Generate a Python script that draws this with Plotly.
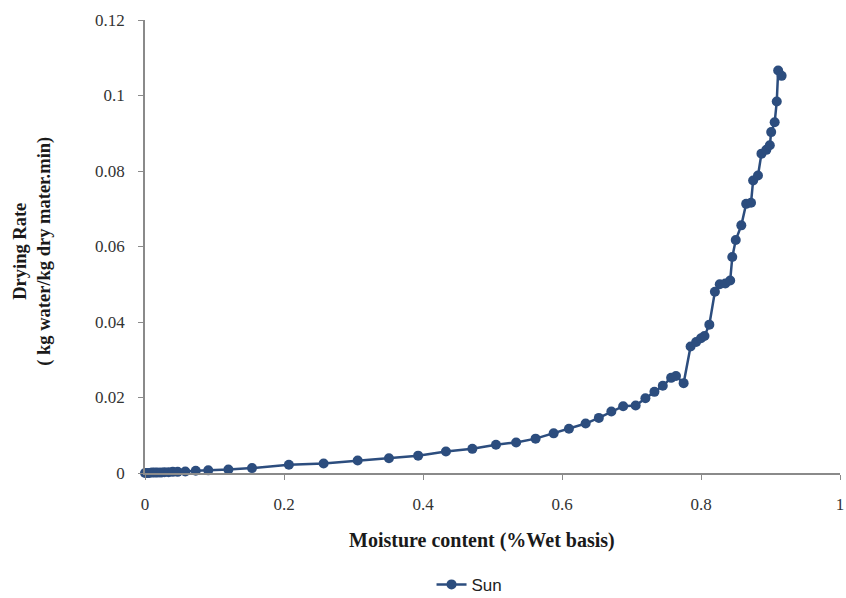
import plotly.graph_objects as go

moisture = [0.000, 0.003, 0.006, 0.010, 0.014, 0.018, 0.023, 0.028, 0.034, 0.040, 0.047,
            0.058, 0.073, 0.091, 0.120, 0.154, 0.207, 0.257, 0.306, 0.351, 0.393,
            0.433, 0.471, 0.505, 0.534, 0.562, 0.588, 0.610, 0.634, 0.653, 0.671,
            0.688, 0.706, 0.720, 0.733, 0.745, 0.757, 0.764, 0.775, 0.785, 0.793,
            0.800, 0.805, 0.812, 0.820, 0.827, 0.835, 0.842, 0.845, 0.850, 0.858,
            0.865, 0.872, 0.875, 0.882, 0.887, 0.894, 0.899, 0.901, 0.906, 0.909,
            0.911, 0.916]
rate = [0.0000, 0.0000, 0.0000, 0.0001, 0.0001, 0.0001, 0.0001, 0.0002, 0.0002, 0.0003, 0.0003,
        0.0004, 0.0006, 0.0007, 0.0009, 0.0013, 0.0022, 0.0025, 0.0033, 0.0039, 0.0046,
        0.0057, 0.0064, 0.0075, 0.0081, 0.0091, 0.0105, 0.0117, 0.0131, 0.0146, 0.0163,
        0.0177, 0.0179, 0.0198, 0.0215, 0.0231, 0.0252, 0.0257, 0.0238, 0.0335, 0.0347,
        0.0357, 0.0363, 0.0393, 0.0480, 0.0500, 0.0502, 0.0510, 0.0572, 0.0617, 0.0656,
        0.0713, 0.0716, 0.0775, 0.0788, 0.0846, 0.0856, 0.0868, 0.0903, 0.0929, 0.0984,
        0.1066, 0.1052]

x_ticks = [0, 0.2, 0.4, 0.6, 0.8, 1]
x_labels = ["0", "0.2", "0.4", "0.6", "0.8", "1"]
y_ticks = [0, 0.02, 0.04, 0.06, 0.08, 0.1, 0.12]
y_labels = ["0", "0.02", "0.04", "0.06", "0.08", "0.1", "0.12"]

color = "#2C4D7E"
fig = go.Figure()
fig.add_trace(go.Scatter(
    x=moisture, y=rate, mode="lines+markers", name="Sun",
    line=dict(color=color, width=2.5),
    marker=dict(color=color, size=10),
    cliponaxis=False,
))

tick_font = dict(family="Liberation Serif", size=17, color="#333333")
fig.update_layout(
    width=846, height=598,
    margin=dict(l=145, r=6, t=20, b=125),
    plot_bgcolor="white", paper_bgcolor="white",
    showlegend=True,
    legend=dict(orientation="h", xref="container", yref="container",
                x=0.555, y=0.022, xanchor="center", yanchor="middle",
                font=dict(family="Liberation Sans", size=17, color="#222")),
    xaxis=dict(range=[0, 1], tickvals=x_ticks, ticktext=x_labels, automargin=False,
               showgrid=False, zeroline=False, showline=True, linecolor="#8a8a8a", linewidth=1.5,
               ticks="outside", ticklen=5, tickcolor="#8a8a8a", tickfont=tick_font,
               ticklabelstandoff=10),
    yaxis=dict(range=[0, 0.12], tickvals=y_ticks, ticktext=y_labels, automargin=False,
               showgrid=False, zeroline=False, showline=True, linecolor="#8a8a8a", linewidth=1.5,
               ticks="outside", ticklen=5, tickcolor="#8a8a8a", tickfont=tick_font,
               ticklabelstandoff=10),
)
fig.add_annotation(
    text="<b>Drying Rate</b><br><b>( kg water/kg dry mater.min)</b>",
    xref="paper", yref="paper", x=-0.163, y=0.49, textangle=-90,
    showarrow=False, xanchor="center", yanchor="middle",
    font=dict(family="Liberation Serif", size=18.5, color="#1a1a1a"),
)
fig.add_annotation(
    text="<b>Moisture content (%Wet basis)</b>",
    xref="paper", yref="paper", x=0.485, y=-0.150,
    showarrow=False, xanchor="center", yanchor="middle",
    font=dict(family="Liberation Serif", size=20, color="#1a1a1a"),
)
fig.write_html("out.html", config={"displayModeBar": False},
               post_script="document.body.style.margin='0';document.body.style.overflow='hidden';")
